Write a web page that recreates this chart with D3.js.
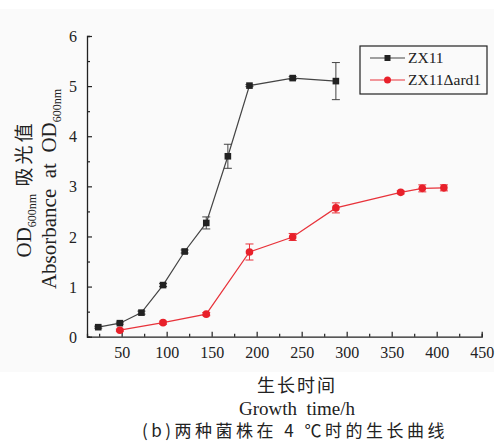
<!DOCTYPE html>
<html><head><meta charset="utf-8">
<script src="https://cdn.jsdelivr.net/npm/d3@7"></script>
<style>body{margin:0;background:#fff}</style>
</head><body><svg id="c" width="495" height="445"></svg>
<script>
const zxTime = [24, 48, 72, 96, 120, 144, 168, 192, 240, 288];
const zxOD   = [0.19, 0.27, 0.48, 1.03, 1.70, 2.27, 3.60, 5.01, 5.16, 5.10];
const zxErr  = [0.02, 0.02, 0.03, 0.03, 0.03, 0.12, 0.24, 0.02, 0.03, 0.37];
const muTime = [48, 96, 144, 192, 240, 288, 360, 384, 408];
const muOD   = [0.13, 0.28, 0.45, 1.69, 1.99, 2.57, 2.88, 2.96, 2.97];
const muErr  = [0.02, 0.03, 0.03, 0.16, 0.07, 0.10, 0.03, 0.07, 0.06];
const xTicks = [50, 100, 150, 200, 250, 300, 350, 400, 450];
const yTicks = [0, 1, 2, 3, 4, 5, 6];
const seriesNames = ["ZX11", "ZX11\u0394ard1"];

const svg = d3.select("#c");
svg.append("rect").attr("x",0).attr("y",9).attr("width",494).attr("height",363).attr("fill","#fafafa");

const x = d3.scaleLinear().domain([11.5, 450]).range([87, 481.7]);
const y = d3.scaleLinear().domain([0, 6]).range([336.7, 36]);
const serif = "'Liberation Serif','Times New Roman',serif";
const cjk = "'Noto Sans CJK SC',sans-serif";

const gx = svg.append("g").attr("transform","translate(0,336.7)");
gx.call(d3.axisBottom(x).tickValues(d3.range(25, 451, 25)).tickSize(-3).tickFormat(""));
gx.call(g=>g.selectAll(".tick line").filter(d=>d%50===0).attr("y2",-5));
gx.selectAll(".tick").filter(d=>xTicks.includes(d)).append("text").attr("y",21).attr("fill","#222")
  .attr("text-anchor","middle").style("font-family",serif).style("font-size","16px").text(d=>d);
gx.select(".domain").attr("stroke","#222").attr("stroke-width",1.3);
gx.selectAll(".tick line").attr("stroke","#222").attr("stroke-width",1.2);

const gy = svg.append("g").attr("transform","translate(87,0)");
gy.call(d3.axisLeft(y).tickValues(d3.range(0, 6.01, 0.5)).tickSize(-3).tickFormat(""));
gy.call(g=>g.selectAll(".tick line").filter(d=>Number.isInteger(d)).attr("x2",5));
gy.selectAll(".tick").filter(d=>yTicks.includes(d)).append("text").attr("x",-10).attr("dy","0.35em").attr("fill","#222")
  .attr("text-anchor","end").style("font-family",serif).style("font-size","16px").text(d=>d);
gy.select(".domain").attr("stroke","#222").attr("stroke-width",1.3);
gy.selectAll(".tick line").attr("stroke","#222").attr("stroke-width",1.2);

function drawSeries(times, vals, errs, color, lineColor, marker){
  const data = times.map((t,i)=>({t, v: vals[i], e: errs[i]}));
  svg.append("path").datum(data).attr("fill","none").attr("stroke",lineColor).attr("stroke-width",1.2)
    .attr("d", d3.line().x(d=>x(d.t)).y(d=>y(d.v)));
  const eb = svg.append("g").attr("stroke",lineColor).attr("stroke-width",1);
  data.forEach(d=>{
    eb.append("line").attr("x1",x(d.t)).attr("x2",x(d.t)).attr("y1",y(d.v+d.e)).attr("y2",y(d.v-d.e));
    eb.append("line").attr("x1",x(d.t)-4).attr("x2",x(d.t)+4).attr("y1",y(d.v+d.e)).attr("y2",y(d.v+d.e));
    eb.append("line").attr("x1",x(d.t)-4).attr("x2",x(d.t)+4).attr("y1",y(d.v-d.e)).attr("y2",y(d.v-d.e));
  });
  data.forEach(d=>{
    if(marker==="square") svg.append("rect").attr("x",x(d.t)-3.3).attr("y",y(d.v)-3.3).attr("width",6.6).attr("height",6.6).attr("fill",color);
    else svg.append("circle").attr("cx",x(d.t)).attr("cy",y(d.v)).attr("r",3.8).attr("fill",color);
  });
}
drawSeries(zxTime, zxOD, zxErr, "#222", "#444", "square");
drawSeries(muTime, muOD, muErr, "#e8202a", "#e8323a", "circle");

// legend
const lg = svg.append("g");
lg.append("rect").attr("x",360).attr("y",46).attr("width",127).attr("height",48).attr("fill","none").attr("stroke","#222").attr("stroke-width",1.2);
[["#444","#222","square"],["#e8323a","#e8202a","circle"]].forEach((s,i)=>{
  const yy = 58 + i*22;
  lg.append("line").attr("x1",370).attr("x2",405).attr("y1",yy).attr("y2",yy).attr("stroke",s[0]).attr("stroke-width",1.2);
  if(s[2]==="square") lg.append("rect").attr("x",384.5).attr("y",yy-3).attr("width",6).attr("height",6).attr("fill",s[1]);
  else lg.append("circle").attr("cx",387.5).attr("cy",yy).attr("r",3.5).attr("fill",s[1]);
  lg.append("text").attr("x",408).attr("y",yy).attr("dy","0.35em").attr("fill","#222")
    .style("font-family",serif).style("font-size","15.5px").text(seriesNames[i]);
});

// y label
const yl1 = svg.append("text").attr("transform","translate(31,189) rotate(-90)").attr("text-anchor","middle")
  .attr("fill","#222").style("font-family",serif).style("font-size","21px");
yl1.append("tspan").text("OD");
yl1.append("tspan").attr("dy",5).style("font-size","12px").text("600nm");
yl1.append("tspan").attr("dy",-5).style("font-family",cjk).style("font-size","19px").style("letter-spacing","3px").text("\u00a0吸光值");
const yl2 = svg.append("text").attr("transform","translate(56,189) rotate(-90)").attr("text-anchor","middle")
  .attr("fill","#222").style("font-family",serif).style("font-size","21px");
yl2.append("tspan").text("Absorbance\u00a0\u00a0at\u00a0\u00a0OD");
yl2.append("tspan").attr("dy",5).style("font-size","12px").text("600nm");

// x labels
svg.append("text").attr("x",297).attr("y",392).attr("text-anchor","middle").attr("fill","#222")
  .style("font-family",cjk).style("font-size","18px").style("letter-spacing","2px").text("生长时间");
svg.append("text").attr("x",297).attr("y",415).attr("text-anchor","middle").attr("fill","#222")
  .style("font-family",serif).style("font-size","19px").text("Growth\u00a0\u00a0time/h");
svg.append("text").attr("x",295).attr("y",437).attr("text-anchor","middle").attr("fill","#222")
  .style("font-family",cjk).style("font-size","17px").style("letter-spacing","3.5px")
  .text("(b)两种菌株在 4 ℃时的生长曲线");
</script></body></html>
